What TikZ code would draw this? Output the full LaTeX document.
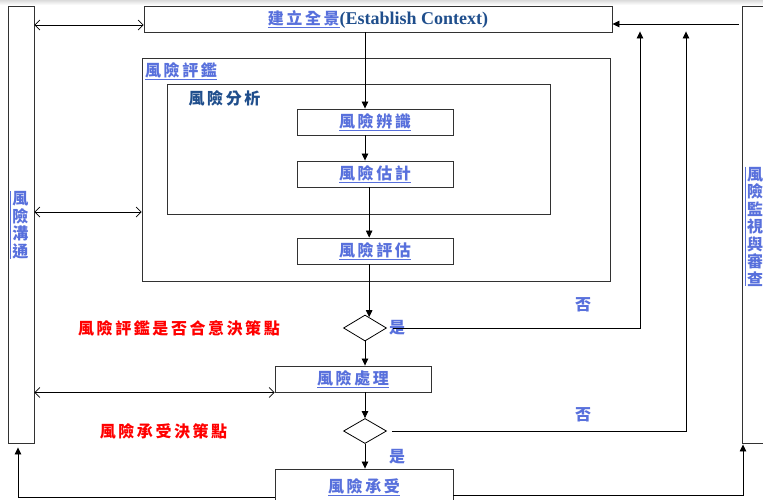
\documentclass[tikz,border=0pt]{standalone}
\usepackage{fontspec}
\setmainfont{Liberation Serif}
\newfontfamily\cjk[LetterSpace=16]{Noto Sans CJK TC}
\newfontfamily\cjkv{Noto Sans CJK TC}
\usetikzlibrary{arrows.meta,shapes.geometric,calc}
\definecolor{lb}{RGB}{88,112,220}
\definecolor{db}{RGB}{31,78,140}
\definecolor{rd}{RGB}{255,0,0}
\definecolor{ln}{RGB}{50,50,50}
\begin{document}
\begin{tikzpicture}[x=1pt,y=-1pt,
  frame/.style={draw=ln, line width=0.9pt, inner sep=0pt},
  zh/.style={font=\cjk\bfseries\fontsize{16}{18}\selectfont, text=lb},
  zhv/.style={font=\cjkv\bfseries\fontsize{16}{17.5}\selectfont, text=lb, align=center, inner sep=0pt},
  flow/.style={-{Triangle[length=7pt,width=6.5pt]}, line width=0.8pt},
  dbl/.style={{Straight Barb[length=5pt,width=10pt]}-{Straight Barb[length=5pt,width=10pt]}, line width=0.7pt},
  dec/.style={diamond, draw=black, line width=0.8pt, inner sep=0pt, minimum width=43pt, minimum height=26pt}
]
\useasboundingbox (0,0) rectangle (763,499);
\fill[top color=black!14, bottom color=white] (0,0) rectangle (763,5);

% side bars
\node[frame, minimum width=26pt, minimum height=437pt] (comm) at (21,224.5) {};
\node[frame, minimum width=24pt, minimum height=437pt] (mon) at (754,224.5) {};
\node[zhv] (commt) at (20.5,225) {風\\險\\溝\\通};
\draw[lb, line width=0.7pt] ([xshift=-1.5pt]commt.north west) -- ([xshift=-1.5pt]commt.south west);
\node[zhv] (mont) at (755,226.5) {風\\險\\監\\視\\與\\審\\查};
\draw[lb, line width=0.7pt] ([xshift=-1.5pt]mont.north west) -- ([xshift=-1.5pt]mont.south west);

% boxes
\node[frame, minimum width=468pt, minimum height=26pt] (ctx) at (378,19)
  {{\cjk\bfseries\fontsize{16}{18}\selectfont\color{lb}\underline{建立全景}}{\color{db}\bfseries\fontsize{18}{20}\selectfont(Establish Context)}};
\node[frame, minimum width=468pt, minimum height=223pt] (assess) at (376,169.5) {};
\node[frame, minimum width=383pt, minimum height=130pt] (anal) at (358.5,149) {};
\node[frame, zh, minimum width=156pt, minimum height=26pt] (ident) at (375,122) {\underline{風險辨識}};
\node[frame, zh, minimum width=156pt, minimum height=26pt] (estim) at (375,174) {\underline{風險估計}};
\node[frame, zh, minimum width=156pt, minimum height=26pt] (evalb) at (375,251) {\underline{風險評估}};
\node[dec] (d1) at (365,328) {};
\node[frame, zh, minimum width=156pt, minimum height=26pt] (treat) at (353,379) {\underline{風險處理}};
\node[dec, minimum height=25pt] (d2) at (365,431) {};
\node[frame, zh, minimum width=178pt, minimum height=36pt] (accept) at (364,487) {\underline{風險承受}};

% labels
\node[zh] (assessl) at (181,71) {\underline{風險評鑑}};
\node[zh, text=db] (anall) at (224.5,98) {風險分析};
\node[zh, text=rd] (q1) at (179,328) {風險評鑑是否合意決策點};
\node[zh, text=rd] (q2) at (163.5,431) {風險承受決策點};
\node[zh] (yes1) at (397,328) {是};
\node[zh] (yes2) at (397,457) {是};
\node[zh] (no1) at (583,305) {否};
\node[zh] (no2) at (583,415) {否};

% main flow
\draw[flow] (ctx.south -| d1) -- (ident.north -| d1);
\draw[flow] (ident.south -| d1) -- (estim.north -| d1);
\draw[flow] (estim.south -| d1.69) -- (evalb.north -| d1.69);
\draw[flow] (evalb.south -| d1.69) -- (d1.69);
\draw[flow] (d1.south) -- (treat.north -| d1.south);
\draw[flow] (treat.south -| d2.north) -- (d2.north);
\draw[flow] (d2.south) -- (accept.north -| d2.south);

% feedback
\coordinate (r1) at (640,0);
\coordinate (r2) at (686,0);
\coordinate (r3) at (743,0);
\coordinate (l0) at (18,0);
\draw[flow, shorten <=6pt, shorten >=-1pt] (d1.east) -| (ctx.south -| r1);
\draw[flow, shorten <=5pt, shorten >=-1pt] (d2.east) -| (ctx.south -| r2);
\draw[flow, shorten <=3pt] (mon.west |- 0,24) -- (ctx.east |- 0,24);
\draw[flow, shorten >=4pt] ([yshift=-10pt]accept.west) -| (comm.south -| l0);
\draw[flow, shorten >=1pt] ([yshift=-8pt]accept.east) -| (mon.south -| r3);

% communication arrows
\draw[dbl] (comm.east |- 0,25) -- (ctx.west |- 0,25);
\draw[dbl] (comm.east |- 0,212) -- (assess.west |- 0,212);
\draw[dbl] (comm.east |- treat.south west) -- (treat.south west);
\end{tikzpicture}
\end{document}
